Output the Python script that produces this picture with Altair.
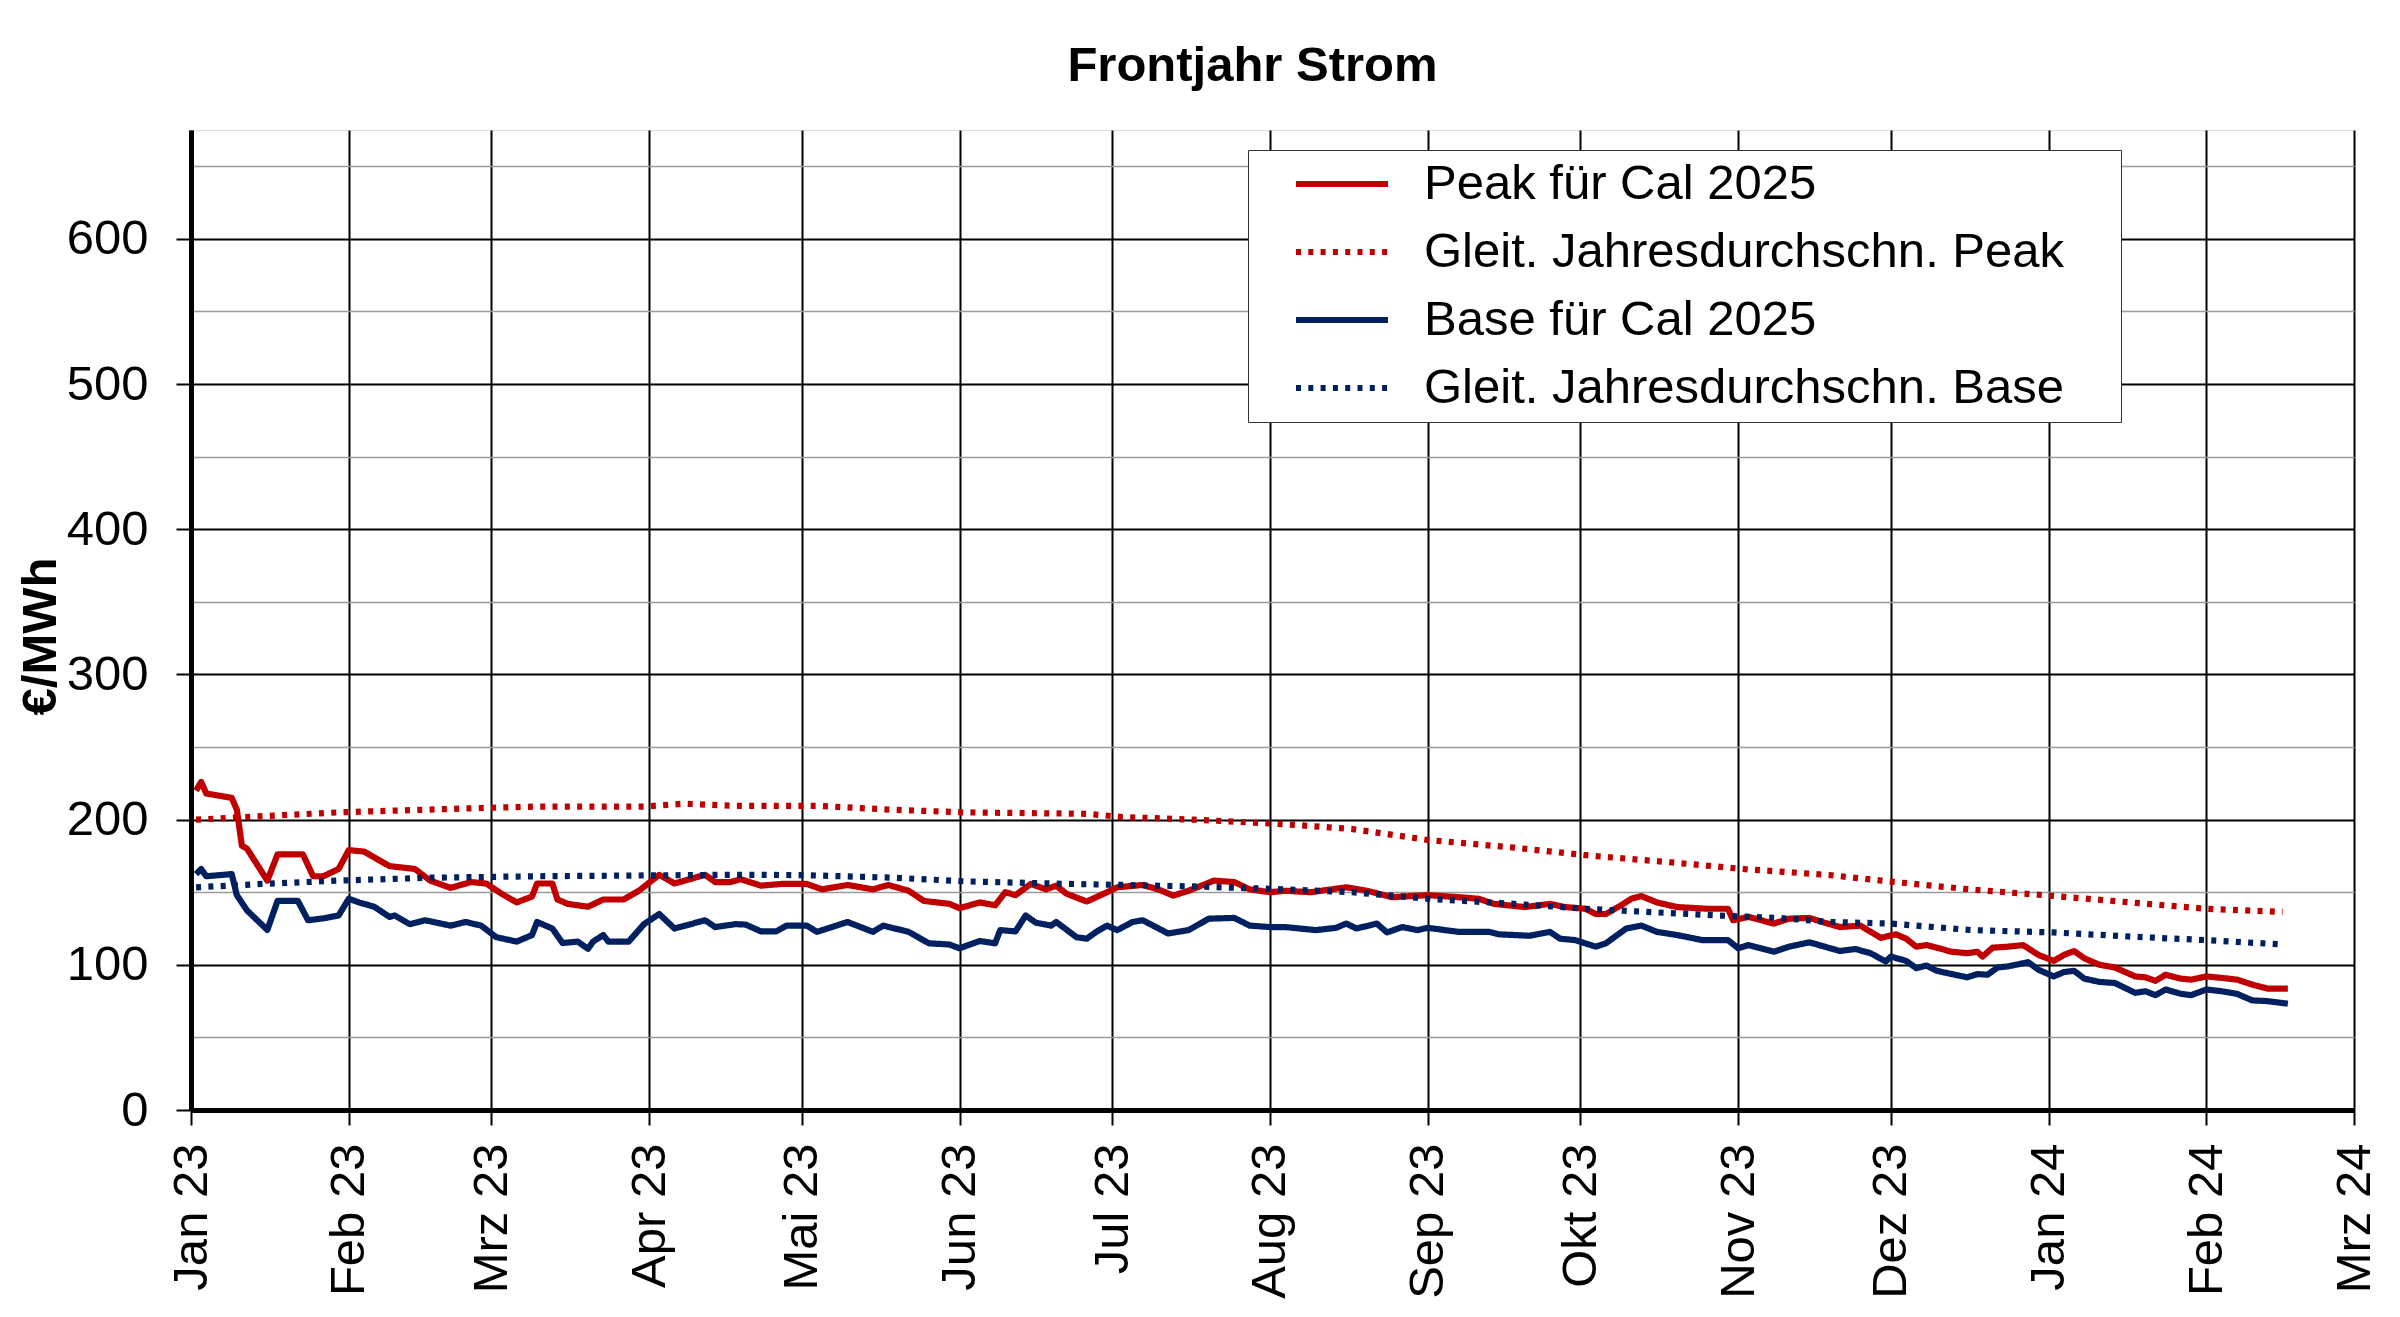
import json
import altair as alt
import pandas as pd

# ---- data: (day offset from 2023-01-01, €/MWh) ----
peak_points = [
    (1, 220), (2, 226), (3, 218), (8, 215), (9, 207), (10, 182), (11, 180), (15, 158), (17, 176), (19, 176),
    (22, 176), (24, 161), (26, 161), (29, 166), (31, 179), (34, 178), (36, 174), (39, 168), (44, 166), (47, 158),
    (51, 153), (55, 157), (58, 156), (61, 149), (64, 143), (67, 147), (68, 156), (71, 156), (72, 145), (74, 142),
    (78, 140), (81, 145), (85, 145), (88, 151), (92, 162), (95, 156), (101, 162), (103, 157), (106, 157), (108, 159),
    (112, 154.5), (116, 155.7), (121, 155.7), (124, 152), (129, 155), (134, 152), (137, 155), (141, 151), (144, 144), (149, 142),
    (151, 139), (155, 143), (158, 141), (160, 150), (162, 148), (165, 155.7), (168, 152), (170, 154.5), (172, 149), (176, 143.6),
    (180, 150), (182, 153.4), (187, 155), (190, 152), (193, 147.7), (196, 151), (201, 158), (205, 157), (208, 152), (212, 150),
    (215, 151), (220, 150), (227, 153.4), (231, 151), (236, 146.6), (243, 148), (249, 146.6), (253, 145.5), (256, 142), (262, 139.8),
    (267, 142), (270, 139.8), (274, 138.6), (276, 135), (278, 135), (281, 141), (283, 145.5), (285, 147.3), (288, 143), (292, 139.8),
    (298, 138.6), (302, 138.6), (303, 130.7), (306, 133), (311, 128.4), (314, 131.8), (318, 132.3), (321, 129), (324, 126), (328, 127),
    (332, 118.6), (335, 121), (337, 118), (339, 112.5), (341, 113.6), (346, 109), (349, 108), (351, 109), (352, 105.7), (354, 111.8),
    (357, 112.5), (360, 113.6), (363, 106.8), (366, 102.7), (368, 106.8), (370, 109.5), (372, 104.5), (375, 100), (378, 98.2), (382, 92),
    (384, 91.4), (386, 89), (388, 93.2), (391, 90.5), (393, 89.8), (396, 92), (399, 91), (402, 89.8), (405, 86.4), (408, 83.6),
    (412, 83.6),
]

base_points = [
    (1, 162.5), (2, 166), (3, 161), (8, 162.5), (9, 148), (11, 137.5), (15, 124), (17, 144), (21, 144), (23, 130.7),
    (26, 132), (29, 134), (31, 145.5), (33, 143), (36, 140), (39, 133), (40, 134), (43, 128), (46, 130.7), (51, 127),
    (54, 129.5), (57, 127), (60, 119), (64, 116), (67, 120.5), (68, 129.5), (71, 125), (73, 115), (76, 116), (78, 111),
    (79, 116), (81, 120.5), (82, 116), (86, 116), (89, 128), (92, 135), (95, 125), (101, 130.7), (103, 126), (107, 128),
    (109, 127.7), (112, 123), (115, 123), (117, 127), (121, 127), (123, 122.7), (129, 129.5), (134, 122.7), (136, 127), (141, 122.7),
    (145, 114.8), (149, 114), (151, 111.4), (155, 116.4), (158, 114.8), (159, 123.9), (162, 123), (164, 134), (166, 129), (169, 127),
    (170, 129.5), (174, 119), (176, 118), (178, 123), (180, 127), (182, 123.9), (185, 129.5), (187, 130.7), (192, 121.6), (196, 123.9),
    (200, 131.8), (205, 132.3), (208, 127), (212, 126), (215, 126), (221, 123.9), (225, 125.5), (227, 128.4), (229, 125), (233, 128.4),
    (235, 122.3), (238, 126), (241, 123.9), (243, 125.5), (249, 122.7), (255, 122.7), (257, 121), (263, 120), (267, 122.7), (269, 118),
    (272, 117), (276, 112.5), (278, 114.8), (282, 125), (285, 127), (288, 122.7), (292, 120.5), (297, 117), (302, 117), (304, 111.4),
    (306, 113.6), (311, 109), (314, 112.5), (318, 115.5), (321, 112.5), (324, 109.5), (327, 110.9), (330, 108), (333, 102.3), (334, 105.7),
    (337, 102.7), (339, 97.7), (341, 99.5), (343, 95.9), (346, 93.6), (349, 91.4), (351, 93.6), (353, 93.2), (355, 98.2), (357, 98.9),
    (361, 101.8), (363, 96.6), (366, 92), (368, 95), (370, 95.9), (372, 90.5), (375, 88.2), (378, 87.5), (382, 80.7), (384, 81.8),
    (386, 79.1), (388, 83), (391, 80), (393, 79.1), (396, 83), (399, 81.8), (402, 80), (405, 75.5), (408, 75), (412, 73.2),
]

peak_avg_points = [
    (1, 200), (12, 202), (29, 205), (57, 208), (68, 209), (89, 209), (97, 211), (107, 209.5), (123, 209.5), (138, 206.8),
    (152, 205), (176, 204), (183, 201.8), (197, 200), (215, 196.8), (228, 193.6), (243, 186), (260, 180.7), (274, 175.5),
    (291, 170.5), (305, 166), (322, 161.8), (334, 157.3), (350, 151.8), (365, 147.7), (382, 142.7), (396, 138.6), (411, 136.4),
]

base_avg_points = [
    (1, 153.4), (14, 155.7), (29, 158), (47, 160), (68, 161), (107, 162), (120, 161.8), (138, 160), (152, 157.5), (169, 156),
    (183, 155), (197, 154), (215, 152), (228, 150), (243, 145.5), (260, 142), (274, 138.6), (284, 136.8), (300, 134),
    (312, 132.3), (322, 129.5), (334, 128.4), (350, 123.9), (366, 122.3), (382, 119.3), (396, 117), (411, 114),
]

series_names = [
    "Peak für Cal 2025",
    "Gleit. Jahresdurchschn. Peak",
    "Base für Cal 2025",
    "Gleit. Jahresdurchschn. Base",
]
series_colors = ["#C00000", "#C00000", "#002060", "#002060"]
series_dashes = [[1, 0], [5, 7.3], [1, 0], [5, 7.3]]

month_labels = ["Jan 23", "Feb 23", "Mrz 23", "Apr 23", "Mai 23", "Jun 23", "Jul 23", "Aug 23",
                "Sep 23", "Okt 23", "Nov 23", "Dez 23", "Jan 24", "Feb 24", "Mrz 24"]
y_ticks = [0, 50, 100, 150, 200, 250, 300, 350, 400, 450, 500, 550, 600, 650]

# ---- build table ----
origin = pd.Timestamp("2023-01-01")
frames = []
for name, pts in [(series_names[0], peak_points), (series_names[2], base_points),
                  (series_names[1], peak_avg_points), (series_names[3], base_avg_points)]:
    days = [p[0] for p in pts]
    vals = [p[1] for p in pts]
    frames.append(pd.DataFrame({
        "date": origin + pd.to_timedelta(days, unit="D"),
        "value": vals,
        "series": name,
    }))
df = pd.concat(frames, ignore_index=True)

month_ticks = [alt.DateTime(year=2023 + i // 12, month=i % 12 + 1, date=1) for i in range(len(month_labels))]
x_label_expr = json.dumps(month_labels) + "[(year(datum.value)-2023)*12+month(datum.value)]"

FONT = "Liberation Sans"

legend = alt.Legend(
    orient="none", legendX=1057, legendY=20, title=None, direction="vertical",
    labelFont=FONT, labelFontSize=49, labelColor="black", labelLimit=3000,
    labelExpr="datum.label + '\u00a0\u00a0\u00a0\u2009\u200b'",
    fillColor="white", strokeColor="#333333", padding=6,
    clipHeight=56, rowPadding=12,
    symbolType="stroke", symbolSize=8464, symbolStrokeWidth=6,
    symbolOffset=39, labelOffset=33,
)

chart = alt.Chart(df).mark_line(strokeWidth=6.2, strokeJoin="round").encode(
    x=alt.X(
        "date:T",
        title=None,
        scale=alt.Scale(domain=[alt.DateTime(year=2023, month=1, date=1),
                                alt.DateTime(year=2024, month=3, date=1)]),
        axis=alt.Axis(
            values=month_ticks, labelExpr=x_label_expr,
            labelAngle=270, labelAlign="right", labelBaseline="middle",
            labelFont=FONT, labelFontSize=49, labelColor="black", labelPadding=18,
            labelOverlap=False, labelFlush=False,
            tickSize=15, tickWidth=2, tickColor="black",
            domainColor="black", domainWidth=5,
            grid=True, gridColor="black", gridWidth=2,
        ),
    ),
    y=alt.Y(
        "value:Q",
        title="€/MWh",
        scale=alt.Scale(domain=[0, 675], nice=False, zero=True),
        axis=alt.Axis(
            values=y_ticks,
            labelExpr="datum.value % 100 == 0 ? datum.label : ''",
            labelFont=FONT, labelFontSize=49, labelColor="black", labelPadding=28,
            labelOverlap=False, labelFlush=False,
            tickSize=15, tickWidth=2, tickColor="black",
            tickOpacity={"condition": {"test": "datum.value % 100 == 0", "value": 1}, "value": 0},
            domainColor="black", domainWidth=5,
            grid=True,
            gridColor={"condition": {"test": "datum.value % 100 == 0", "value": "black"}, "value": "#9a9a9a"},
            gridWidth={"condition": {"test": "datum.value % 100 == 0", "value": 2}, "value": 1.5},
            titleFont=FONT, titleFontSize=49, titleFontWeight="bold", titleColor="black",
            titleAngle=270, titleAlign="center", titleBaseline="alphabetic",
            titleX=-136, titleY=506,
        ),
    ),
    color=alt.Color("series:N", scale=alt.Scale(domain=series_names, range=series_colors), legend=legend),
    strokeDash=alt.StrokeDash("series:N", scale=alt.Scale(domain=series_names, range=series_dashes), legend=legend),
).properties(
    width=2163,
    height=980,
    title=alt.TitleParams("Frontjahr Strom", font=FONT, fontSize=49, fontWeight="bold", color="black",
                          anchor="middle", frame="group", offset=39, dx=-20),
    autosize=alt.AutoSizeParams(type="none"),
    padding={"left": 183, "top": 122, "right": 38, "bottom": 190},
).configure_view(
    stroke="black", strokeWidth=5,
).configure_legend(
    strokeWidth=2,
).configure(
    background="white",
)

chart.save("out.html", embed_options={"renderer": "svg", "actions": False})
